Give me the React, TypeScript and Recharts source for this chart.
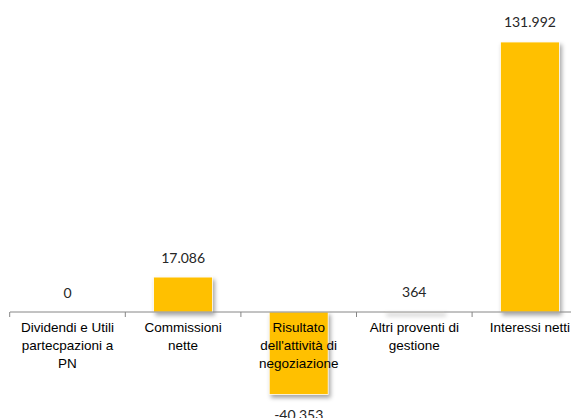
import React from "react";
import { BarChart, Bar, XAxis, YAxis, ReferenceLine, LabelList } from "recharts";

const categories = [
  "Dividendi e Utili\npartecpazioni a\nPN",
  "Commissioni\nnette",
  "Risultato\ndell'attività di\nnegoziazione",
  "Altri proventi di\ngestione",
  "Interessi netti",
];
const values = [0, 17086, -40353, 364, 131992];

const data = categories.map((name, i) => ({ name, value: values[i] }));

const CHART_W = 600;
const CHART_H = 420;
const MARGIN = { top: 17.6, right: 20, bottom: 13.7, left: 2 };
const PLOT_W = CHART_W - MARGIN.left - MARGIN.right;
const BAND = PLOT_W / categories.length;

const fmt = (v: number) => {
  const s = Math.abs(v).toString().replace(/\B(?=(\d{3})+(?!\d))/g, ".");
  return (v < 0 ? "-" : "") + s;
};

const BarShape = (props: any) => {
  const { x, y, width, height } = props;
  const y0 = Math.min(y, y + height);
  const h = Math.abs(height);
  if (!(h > 0)) return <g />;
  return (
    <rect
      x={x}
      y={y0}
      width={width}
      height={Math.max(h, 0.8)}
      fill="#FFC000"
      stroke="#ffffff"
      strokeWidth={0.8}
      style={{ filter: "drop-shadow(2px 3px 2px rgba(0,0,0,0.35))" }}
    />
  );
};

const ValueLabel = (props: any) => {
  const { x, y, width, height, index } = props;
  const v = values[index];
  const top = Math.min(y, y + height);
  const bottom = Math.max(y, y + height);
  const cx = x + width / 2;
  const ty = v >= 0 ? top - 14.5 : bottom + 25;
  return (
    <text
      x={cx}
      y={ty}
      textAnchor="middle"
      fontFamily="Lato, 'Open Sans', sans-serif"
      fontSize={14}
      fill="#262626"
    >
      {fmt(v)}
    </text>
  );
};

const CategoryLabel = (props: any) => {
  const { x, y, width, height, index } = props;
  const v = values[index];
  const zero = v >= 0 ? Math.max(y, y + height) : Math.min(y, y + height);
  const cx = x + width / 2;
  const lines = categories[index].split("\n");
  const left = cx - BAND / 2;
  return (
    <g>
      <line x1={left} x2={left} y1={zero} y2={zero + 5} stroke="#868686" strokeWidth={1} />
      <text
        textAnchor="middle"
        fontFamily="'Liberation Sans', Arial, sans-serif"
        fontSize={13.5}
        fill="#000"
      >
        {lines.map((l, i) => (
          <tspan key={i} x={cx} y={zero + 20 + i * 18}>
            {l}
          </tspan>
        ))}
      </text>
    </g>
  );
};

export default function App() {
  return (
    <div style={{ width: 571, height: 410, overflow: "hidden", background: "#fff" }}>
      <BarChart width={CHART_W} height={CHART_H} data={data} margin={MARGIN} barSize={59}>
        <XAxis dataKey="name" hide />
        <YAxis hide domain={[-50000, 140000]} />
        <ReferenceLine y={0} stroke="#868686" strokeWidth={1} />
        <Bar dataKey="value" isAnimationActive={false} shape={<BarShape />}>
          <LabelList dataKey="value" content={<ValueLabel />} />
          <LabelList dataKey="name" content={<CategoryLabel />} />
        </Bar>
      </BarChart>
    </div>
  );
}
